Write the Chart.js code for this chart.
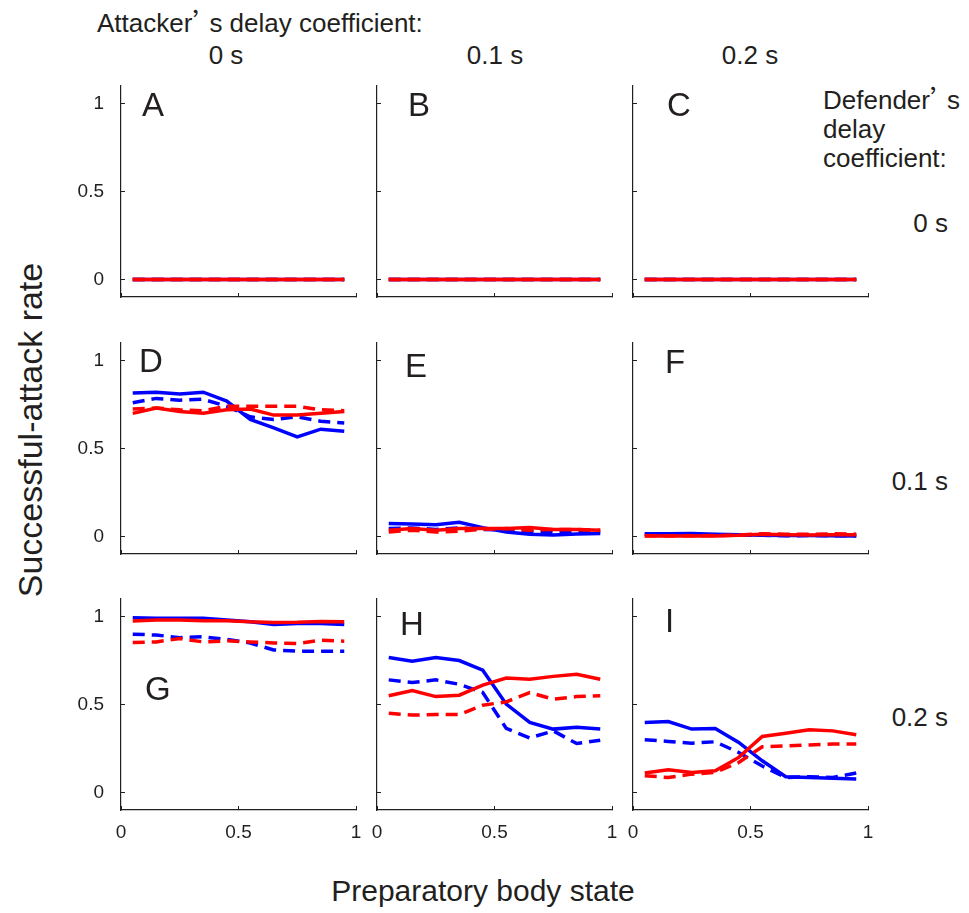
<!DOCTYPE html>
<html>
<head>
<meta charset="utf-8">
<script src="https://cdn.jsdelivr.net/npm/chart.js@4"></script>
<style>
  body { margin: 0; background: #fff; }
  #page { position: relative; width: 969px; height: 913px; overflow: hidden;
          font-family: "Liberation Sans", Arial, sans-serif; color: #231f20; }
  #page canvas { position: absolute; }
  .txt { position: absolute; line-height: 1; white-space: nowrap; }
  .q { font-family: "Noto Sans CJK JP", "Liberation Sans", sans-serif; font-feature-settings: "fwid"; letter-spacing: -9px; }
</style>
</head>
<body>
<div id="page">
  <div class="txt" style="left:97px; top:8px; font-size:26px;">Attacker<span class="q">’</span>s delay coefficient:</div>
  <div class="txt" style="left:166px; top:42px; width:120px; text-align:center; font-size:26px;">0 s</div>
  <div class="txt" style="left:435px; top:42px; width:120px; text-align:center; font-size:26px;">0.1 s</div>
  <div class="txt" style="left:690px; top:42px; width:120px; text-align:center; font-size:26px;">0.2 s</div>

  <div class="txt" style="left:823px; top:83px; font-size:26px; line-height:29px;">Defender<span class="q">’</span>s<br>delay<br>coefficient:</div>
  <div class="txt" style="left:830px; top:210px; width:118px; text-align:right; font-size:26px;">0 s</div>
  <div class="txt" style="left:830px; top:468px; width:118px; text-align:right; font-size:26px;">0.1 s</div>
  <div class="txt" style="left:830px; top:704px; width:118px; text-align:right; font-size:26px;">0.2 s</div>

  <div class="txt" style="left:-170px; top:413px; width:400px; text-align:center; font-size:34px; transform:rotate(-90deg);">Successful-attack rate</div>
  <div class="txt" style="left:283px; top:876px; width:400px; text-align:center; font-size:30px;">Preparatory body state</div>
</div>

<script>
// preparatory body state (x) of each point
const bodyState = [0.05, 0.15, 0.25, 0.35, 0.45, 0.55, 0.65, 0.75, 0.85, 0.95];
const xTicks = [0, 0.5, 1];
const yTicks = [0, 0.5, 1];
const panelLetters = ["A", "B", "C", "D", "E", "F", "G", "H", "I"];

// row 1 (defender 0 s): every line sits at zero
const zeroRate = [0, 0, 0, 0, 0, 0, 0, 0, 0, 0];

// D: attacker 0 s, defender 0.1 s
const dBlueSolid = [0.815, 0.82, 0.81, 0.82, 0.77, 0.665, 0.617, 0.566, 0.61, 0.598];
const dBlueDashed = [0.76, 0.785, 0.775, 0.78, 0.74, 0.68, 0.665, 0.68, 0.655, 0.645];
const dRedSolid = [0.70, 0.73, 0.71, 0.70, 0.72, 0.725, 0.69, 0.69, 0.70, 0.71];
const dRedDashed = [0.725, 0.73, 0.72, 0.715, 0.74, 0.74, 0.74, 0.74, 0.72, 0.715];

// E: attacker 0.1 s, defender 0.1 s
const eBlueSolid = [0.074, 0.07, 0.066, 0.08, 0.05, 0.025, 0.012, 0.008, 0.014, 0.017];
const eBlueDashed = [0.045, 0.048, 0.04, 0.048, 0.04, 0.035, 0.03, 0.02, 0.025, 0.025];
const eRedSolid = [0.035, 0.045, 0.035, 0.045, 0.045, 0.045, 0.05, 0.04, 0.04, 0.035];
const eRedDashed = [0.025, 0.035, 0.025, 0.03, 0.04, 0.045, 0.035, 0.04, 0.04, 0.035];

// F: attacker 0.2 s, defender 0.1 s
const fBlueSolid = [0.015, 0.015, 0.016, 0.012, 0.01, 0.006, 0.005, 0.005, 0.004, 0.002];
const fBlueDashed = [0.012, 0.01, 0.01, 0.008, 0.008, 0.006, 0.004, 0.005, 0.004, 0.004];
const fRedSolid = [0.002, 0.003, 0.002, 0.003, 0.006, 0.012, 0.01, 0.008, 0.01, 0.01];
const fRedDashed = [0.004, 0.003, 0.004, 0.005, 0.008, 0.015, 0.013, 0.012, 0.015, 0.013];

// G: attacker 0 s, defender 0.2 s
const gBlueSolid = [0.994, 0.99, 0.99, 0.99, 0.98, 0.97, 0.955, 0.96, 0.96, 0.955];
const gBlueDashed = [0.90, 0.895, 0.88, 0.885, 0.87, 0.85, 0.81, 0.803, 0.803, 0.803];
const gRedSolid = [0.975, 0.98, 0.98, 0.977, 0.977, 0.97, 0.967, 0.968, 0.972, 0.97];
const gRedDashed = [0.852, 0.856, 0.875, 0.856, 0.862, 0.856, 0.85, 0.847, 0.865, 0.86];

// H: attacker 0.1 s, defender 0.2 s
const hBlueSolid = [0.767, 0.746, 0.767, 0.75, 0.695, 0.502, 0.398, 0.36, 0.37, 0.36];
const hBlueDashed = [0.64, 0.625, 0.64, 0.615, 0.568, 0.364, 0.31, 0.35, 0.278, 0.297];
const hRedSolid = [0.55, 0.58, 0.545, 0.553, 0.61, 0.65, 0.644, 0.66, 0.672, 0.644];
const hRedDashed = [0.45, 0.44, 0.443, 0.443, 0.496, 0.515, 0.568, 0.53, 0.545, 0.55];

// I: attacker 0.2 s, defender 0.2 s
const iBlueSolid = [0.398, 0.403, 0.36, 0.364, 0.284, 0.18, 0.089, 0.085, 0.081, 0.076];
const iBlueDashed = [0.30, 0.29, 0.28, 0.288, 0.227, 0.15, 0.085, 0.089, 0.085, 0.11];
const iRedSolid = [0.11, 0.129, 0.114, 0.123, 0.199, 0.318, 0.337, 0.356, 0.35, 0.328];
const iRedDashed = [0.095, 0.085, 0.104, 0.114, 0.17, 0.26, 0.265, 0.27, 0.275, 0.275];

const panelSeries = [
  [zeroRate, zeroRate, zeroRate, zeroRate],
  [zeroRate, zeroRate, zeroRate, zeroRate],
  [zeroRate, zeroRate, zeroRate, zeroRate],
  [dBlueSolid, dBlueDashed, dRedSolid, dRedDashed],
  [eBlueSolid, eBlueDashed, eRedSolid, eRedDashed],
  [fBlueSolid, fBlueDashed, fRedSolid, fRedDashed],
  [gBlueSolid, gBlueDashed, gRedSolid, gRedDashed],
  [hBlueSolid, hBlueDashed, hRedSolid, hRedDashed],
  [iBlueSolid, iBlueDashed, iRedSolid, iRedDashed],
];

// layout of the grid (pixels)
const colLeft = [121, 377, 633];
const rowTop = [86.4, 343.2, 599.4];
const areaW = 235, areaH = 211.2;
const padL = 60, padT = 10, padR = 10, padB = 45;
// where each panel letter sits, relative to its plot area (x, baseline)
const letterPos = [[21, 30], [31, 30], [34, 30], [18, 29], [28, 34], [32, 30], [24, 101], [23, 36], [32, 33]];

const ink = "#231f20";
const tickFont = { family: "'Liberation Sans', Arial, sans-serif", size: 19 };

const letterPlugin = {
  id: "panelLetter",
  afterDraw(chart, args, opts) {
    const c = chart.ctx;
    const a = chart.chartArea;
    c.save();
    c.font = "33px 'Liberation Sans', Arial, sans-serif";
    c.fillStyle = ink;
    c.textBaseline = "alphabetic";
    c.fillText(opts.text, a.left + opts.x, a.top + opts.y);
    c.restore();
  }
};

// lower order is drawn on top: red lines over blue ones
function line(values, color, dashed, order) {
  return {
    data: values.map((v, i) => ({ x: bodyState[i], y: v })),
    borderColor: color,
    borderWidth: 3.5,
    borderDash: dashed ? [12, 7] : [],
    borderCapStyle: "butt",
    pointRadius: 0,
    tension: 0,
    fill: false,
    order: order,
  };
}

const page = document.getElementById("page");

panelSeries.forEach((s, k) => {
  const row = Math.floor(k / 3), col = k % 3;
  const cv = document.createElement("canvas");
  cv.width = padL + areaW + padR;
  cv.height = Math.round(padT + areaH + padB);
  cv.style.left = (colLeft[col] - padL) + "px";
  cv.style.top = (rowTop[row] - padT) + "px";
  page.appendChild(cv);

  new Chart(cv.getContext("2d"), {
    type: "line",
    data: {
      datasets: [
        line(s[0], "#0000ff", false, 4),
        line(s[1], "#0000ff", true, 3),
        line(s[2], "#ff0000", false, 2),
        line(s[3], "#ff0000", true, 1),
      ],
    },
    options: {
      responsive: false,
      animation: false,
      events: [],
      layout: { padding: { left: 0, top: padT, right: padR, bottom: 0 } },
      plugins: {
        legend: { display: false },
        tooltip: { enabled: false },
        panelLetter: { text: panelLetters[k], x: letterPos[k][0], y: letterPos[k][1] },
      },
      scales: {
        x: {
          type: "linear",
          min: 0,
          max: 1,
          afterBuildTicks: sc => { sc.ticks = xTicks.map(v => ({ value: v })); },
          afterFit: sc => { sc.height = padB; sc.paddingLeft = 0; sc.paddingRight = 0; },
          border: { display: true, color: ink, width: 1.2 },
          grid: { drawOnChartArea: false, drawTicks: true, tickLength: -4, color: ink, lineWidth: 1 },
          ticks: {
            display: row === 2,
            padding: 15,
            maxRotation: 0,
            autoSkip: false,
            color: ink,
            font: tickFont,
            callback: v => String(v),
          },
        },
        y: {
          min: -0.1,
          max: 1.1,
          afterBuildTicks: sc => { sc.ticks = yTicks.map(v => ({ value: v })); },
          afterFit: sc => { sc.width = padL; sc.paddingTop = 0; sc.paddingBottom = 0; },
          border: { display: true, color: ink, width: 1.2 },
          grid: { drawOnChartArea: false, drawTicks: true, tickLength: -4, color: ink, lineWidth: 1 },
          ticks: {
            display: col === 0,
            padding: 21,
            autoSkip: false,
            color: ink,
            font: tickFont,
            callback: v => String(v),
          },
        },
      },
    },
    plugins: [letterPlugin],
  });
});
</script>
</body>
</html>
